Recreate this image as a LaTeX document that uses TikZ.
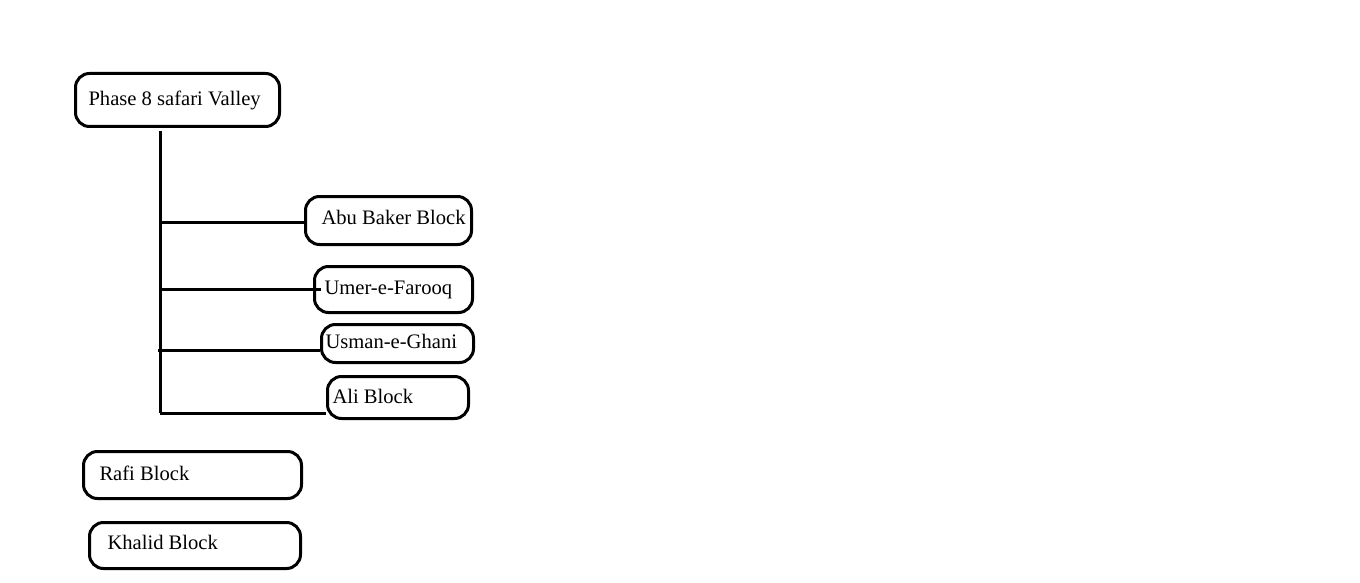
\documentclass[tikz,border=0pt]{standalone}
\usepackage{fontspec}
\setmainfont{Liberation Serif}
\newcommand{\lbox}[3]{\makebox[#1pt][l]{\raisebox{#3pt}{#2}}}
\begin{document}
\begin{tikzpicture}[x=1pt,y=-1pt,
  blk/.style={draw=black, line width=3pt, rounded corners=14pt, anchor=north west,
    inner ysep=0pt, font=\fontsize{20.6}{24}\selectfont},
  conn/.style={draw=black, line width=3pt}]
\useasboundingbox (0,0) rectangle (1360,583);
\fill[white] (0,0) rectangle (1360,583);
\node[blk, minimum width=204pt, minimum height=53pt, inner xsep=13pt] (root) at (74,72) {\lbox{178}{Phase 8 safari Valley}{2}};
\node[blk, minimum width=166pt, minimum height=48pt, inner xsep=16pt] (abu) at (304,195) {\lbox{134}{Abu Baker Block}{6}};
\node[blk, minimum width=158pt, minimum height=46pt, inner xsep=10pt] (umer) at (313,265) {\lbox{138}{Umer-e-Farooq}{0}};
\node[blk, minimum width=152pt, minimum height=38pt, inner xsep=4pt] (usman) at (320,323) {\lbox{144}{Usman-e-Ghani}{5}};
\node[blk, minimum width=141pt, minimum height=42pt, inner xsep=5pt] (ali) at (326,375) {\lbox{131}{Ali Block}{3}};
\node[blk, minimum width=218pt, minimum height=47pt, inner xsep=16pt] (rafi) at (82,450) {\lbox{186}{Rafi Block}{3}};
\node[blk, minimum width=211pt, minimum height=46pt, inner xsep=18pt] (khalid) at (88,521) {\lbox{175}{Khalid Block}{6}};
\coordinate (ttop) at (160,131);
\coordinate (tbot) at (160,413);
\coordinate (tabu) at (160,222);
\coordinate (tumer) at (160,289);
\coordinate (tusman) at (158,350);
\draw[conn] (ttop) -- (tbot);
\draw[conn] (tabu) -- (abu.west |- tabu);
\draw[conn] (tumer) -- ([xshift=8pt]umer.west |- tumer);
\draw[conn] (tusman) -- (usman.west |- tusman);
\draw[conn] (tbot) -- (ali.west |- tbot);
\end{tikzpicture}
\end{document}
